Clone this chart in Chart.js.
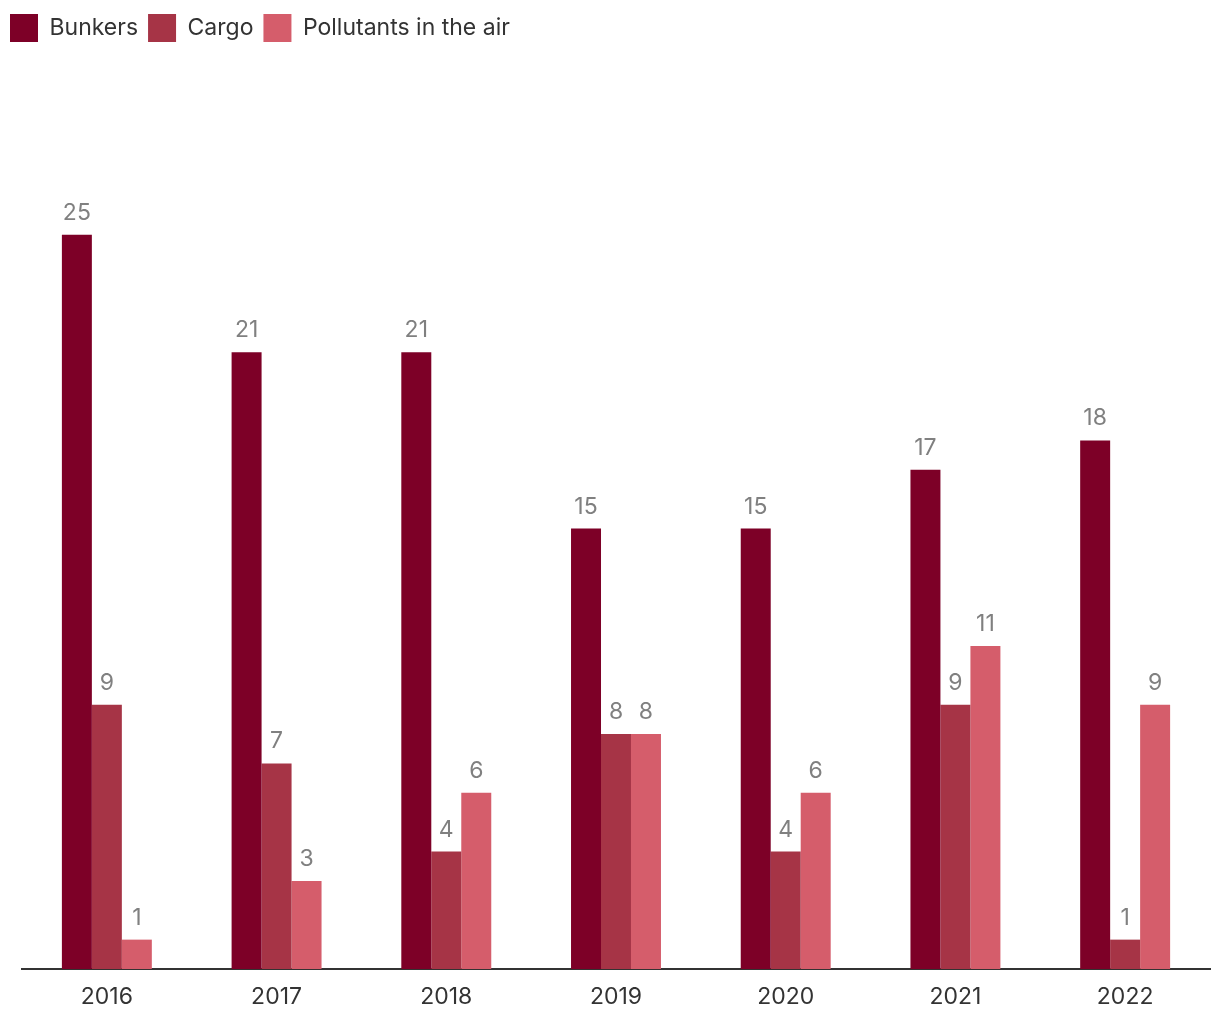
<!DOCTYPE html>
<html>
<head>
<meta charset="utf-8">
<script src="https://cdn.jsdelivr.net/npm/chart.js@4.4.0/dist/chart.umd.min.js"></script>
<style>
  body { margin: 0; background: #fff; }
  #wrap { width: 1220px; height: 1020px; }
</style>
</head>
<body>
<div id="wrap"><canvas id="myChart"></canvas></div>
<script>
var anos = ['2016', '2017', '2018', '2019', '2020', '2021', '2022'];
var bunkers = [25, 21, 21, 15, 15, 17, 18];
var cargo = [9, 7, 4, 8, 4, 9, 1];
var poluentes = [1, 3, 6, 8, 6, 11, 9];

var cores = ['#7d0027', '#a63446', '#d55d6b'];

Chart.defaults.font.family = 'Inter, "Noto Sans", sans-serif';

// rótulos em cima das barras
const rotulosBarras = {
    id: 'rotulosBarras',
    afterDatasetsDraw(chart) {
        const ctx = chart.ctx;
        ctx.save();
        ctx.font = '23px Inter, "Noto Sans", sans-serif';
        ctx.fillStyle = '#808080';
        ctx.textAlign = 'center';
        ctx.textBaseline = 'alphabetic';
        chart.data.datasets.forEach((ds, i) => {
            chart.getDatasetMeta(i).data.forEach((bar, j) => {
                ctx.fillText(ds.data[j], bar.x, bar.y - 15);
            });
        });
        ctx.restore();
    }
};

// espaço extra debaixo da legenda
const alturaLegenda = {
    id: 'alturaLegenda',
    beforeInit(chart) {
        const fitOriginal = chart.legend.fit;
        chart.legend.fit = function () {
            fitOriginal.bind(chart.legend)();
            this.height = 84;
        };
    }
};

const data = {
    labels: anos,
    datasets: [
        { label: 'Bunkers', data: bunkers, backgroundColor: cores[0] },
        { label: 'Cargo', data: cargo, backgroundColor: cores[1] },
        { label: 'Pollutants in the air', data: poluentes, backgroundColor: cores[2] }
    ]
};

const opcoes = {
    responsive: true,
    maintainAspectRatio: false,
    animation: false,
    layout: { padding: { left: 0, right: 10, top: 4, bottom: 0 } },
    datasets: { bar: { categoryPercentage: 0.53, barPercentage: 1 } },
    plugins: {
        legend: {
            position: 'top',
            align: 'start',
            labels: {
                boxWidth: 28,
                boxHeight: 28,
                padding: 10,
                color: '#333',
                font: { size: 23 }
            }
        },
        tooltip: { enabled: false }
    },
    scales: {
        x: {
            grid: { display: false },
            border: { display: true, color: '#333', width: 2 },
            ticks: { color: '#333', font: { size: 23 }, padding: 6 },
            afterFit(escala) { escala.height = 51; }
        },
        y: {
            display: true,
            min: 0,
            max: 30,
            grid: { display: false },
            border: { display: false },
            ticks: { display: false },
            afterFit(escala) { escala.width = 22; }
        }
    }
};

var myChart = new Chart(document.getElementById('myChart').getContext('2d'), {
    type: 'bar',
    data: data,
    options: opcoes,
    plugins: [rotulosBarras, alturaLegenda]
});
</script>
</body>
</html>
